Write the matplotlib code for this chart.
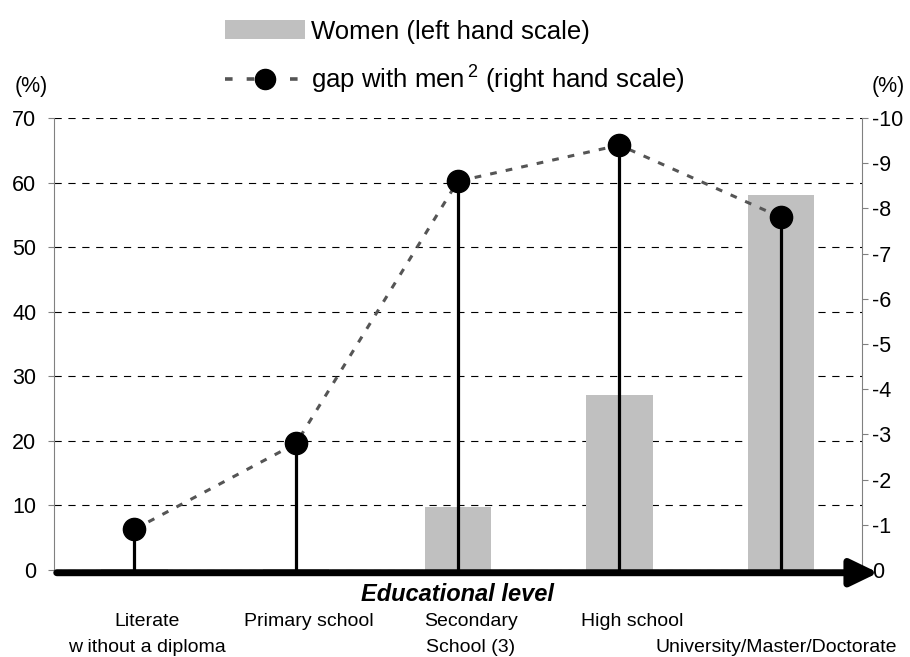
import matplotlib
matplotlib.use("Agg")
import matplotlib.pyplot as plt
from matplotlib.patches import Patch, FancyArrowPatch
from matplotlib.lines import Line2D
from matplotlib.transforms import blended_transform_factory, offset_copy

plt.rcParams['font.family'] = ['Liberation Sans', 'DejaVu Sans']
plt.rcParams['axes.unicode_minus'] = False
plt.rcParams['mathtext.default'] = 'regular'

# data
label_line1 = ["Literate", "Primary school", "Secondary", "High school", ""]
label_line2 = ["w ithout a diploma", "", "School (3)", "", "University/Master/Doctorate"]
women = [0.2, 0.2, 9.7, 27.1, 58.0]          # left hand scale (%)
gap_with_men = [-0.9, -2.8, -8.6, -9.4, -7.8]  # right hand scale (%)
left_ticks = [0, 10, 20, 30, 40, 50, 60, 70]
right_ticks = [0, -1, -2, -3, -4, -5, -6, -7, -8, -9, -10]

fig = plt.figure(figsize=(9.1, 6.57), dpi=100)
ax = fig.add_axes([0.0588, 0.1324, 0.8885, 0.688])
x = list(range(len(women)))

# grid + bars (left scale)
ax.set_ylim(0, 70)
ax.set_xlim(-0.5, len(women) - 0.5)
ax.set_yticks(left_ticks)
ax.yaxis.grid(True, color='black', lw=0.8, linestyle=(0, (6.5, 6)))
ax.set_axisbelow(True)
ax.bar(x, women, width=0.41, color='#c0c0c0', zorder=2)

for side in ['top', 'bottom', 'right']:
    ax.spines[side].set_visible(False)
ax.spines['left'].set_color('#808080')
ax.tick_params(axis='y', labelsize=15.5, length=4.5, color='#808080', pad=8)
ax.set_xticks([])

# category labels, two rows, nudged a bit right of the stems like the original
trans = offset_copy(blended_transform_factory(ax.transData, ax.transAxes), fig=fig,
                    x=13, y=0, units='dots')
for xi, l1, l2 in zip(x, label_line1, label_line2):
    if l1:
        ax.text(xi, -0.114, l1, transform=trans, ha='center', va='center', fontsize=14)
    if l2 and xi == x[-1]:
        # last label is too wide to centre, it ends at the right edge
        ax.text(1.043, -0.171, l2, transform=ax.transAxes, ha='right', va='center', fontsize=14)
    elif l2:
        ax.text(xi, -0.171, l2, transform=trans, ha='center', va='center', fontsize=14)

# gap with men (right scale, inverted)
ax2 = ax.twinx()
ax2.set_ylim(0, -10)
ax2.set_yticks(right_ticks)
for side in ['top', 'bottom', 'left']:
    ax2.spines[side].set_visible(False)
ax2.spines['right'].set_color('#808080')
ax2.tick_params(axis='y', labelsize=15.5, length=4.5, color='#808080', pad=3)
ax2.vlines(x, 0, gap_with_men, color='black', lw=2.3, zorder=3)
ax2.plot(x, gap_with_men, color='#555555', lw=2.2, linestyle=(0, (2.2, 3.0)), zorder=3)
ax2.plot(x, gap_with_men, 'o', color='black', markersize=16, zorder=4)

# x axis arrow
arrow = FancyArrowPatch((0.004, -0.006), (1.02, -0.006), transform=ax.transAxes,
                        arrowstyle='-|>,head_length=1.2,head_width=0.58', mutation_scale=14,
                        lw=5, color='black', shrinkA=0, shrinkB=0, clip_on=False, zorder=6)
ax2.add_artist(arrow)
ax.text(0.5, -0.028, "Educational level", transform=ax.transAxes, ha='center', va='top',
        fontsize=17, fontweight='bold', fontstyle='italic')

# axis unit labels
fig.text(0.034, 0.869, "(%)", ha='center', va='center', fontsize=15.5)
fig.text(0.976, 0.869, "(%)", ha='center', va='center', fontsize=15.5)

# legend
handles = [Patch(facecolor='#c0c0c0', edgecolor='none'),
           Line2D([], [], color='#555555', lw=2.6, linestyle=(0, (2.1, 3.9)),
                  marker='o', markersize=14.5, markerfacecolor='black', markeredgecolor='black')]
labels = ["Women (left hand scale)", "gap with men$^{\\,2}$ (right hand scale)"]
fig.legend(handles, labels, loc='upper left', bbox_to_anchor=(0.222, 1.005), frameon=False,
           fontsize=18.5, handlelength=3.1, handleheight=0.75, handletextpad=0.25,
           labelspacing=0.78, borderpad=0.4)

fig.savefig("out.png", dpi=100)
